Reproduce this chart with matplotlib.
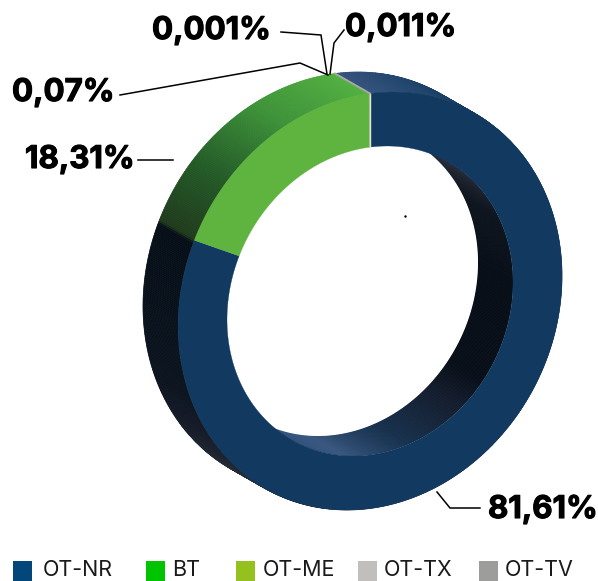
import numpy as np
import matplotlib
matplotlib.use('Agg')
import matplotlib.pyplot as plt
import matplotlib.patheffects as pe
from matplotlib.colors import to_rgb
from matplotlib.patches import Polygon, Rectangle

names = ['OT-NR', 'BT', 'OT-ME', 'OT-TX', 'OT-TV']
shares = [81.61, 18.31, 0.07, 0.011, 0.001]
share_labels = ['81,61%', '18,31%', '0,07%', '0,011%', '0,001%']
legend_colors = ['#03477a', '#00c400', '#95c11f', '#c1bebe', '#9d9d9c']
face_colors = ['#123a61', '#5fb440', '#95c11f', '#c1bebe', '#9d9d9c']

# ring geometry in pixels
cx, cy = 370, 301
rx_out, ry_out = 192, 209
rx_in, ry_in = 143, 155
skew = -0.12
dx, dy = -35, -20

# shading of the side walls, angle clockwise from the top
outer_stops = [(0, '#33527c'), (25, '#1d4268'), (50, '#123a61'), (180, '#2a2f3a'),
               (215, '#2a2f3a'), (250, '#0a121d'), (293, '#050d17'), (294, '#1f3a1b'),
               (312, '#225a26'), (335, '#3d9338'), (360, '#52b040')]
inner_stops = [(0, '#2a2f3d'), (40, '#2a2f3d'), (65, '#10161f'), (90, '#050c15'),
               (128, '#060d17'), (140, '#121b2b'), (165, '#16304d'), (190, '#3a5880'),
               (210, '#33527c'), (360, '#33527c')]


def ring_pts(theta, rx, ry, ox=0, oy=0):
    t = np.radians(theta)
    x = cx + ox + rx * np.sin(t)
    y = cy + oy + ry * (skew * np.sin(t) - np.sqrt(1 - skew ** 2) * np.cos(t))
    return np.column_stack([x, y])


def shade(theta, stops):
    a = [s[0] for s in stops]
    c = np.array([to_rgb(s[1]) for s in stops])
    return [np.interp(theta, a, c[:, i]) for i in range(3)]


def sweep(rx, ry, stops, clip=None):
    step = 0.5
    for t in np.arange(0, 360, step):
        arc = np.array([t, t + step])
        quad = np.vstack([ring_pts(arc, rx, ry), ring_pts(arc[::-1], rx, ry, dx, dy)])
        col = shade(t + step / 2, stops)
        p = Polygon(quad, closed=True, facecolor=col, edgecolor=col, lw=0.5)
        ax.add_patch(p)
        if clip is not None:
            p.set_clip_path(clip)


fig = plt.figure(figsize=(5.98, 5.81), dpi=100)
ax = fig.add_axes([0, 0, 1, 1])
ax.set_xlim(0, 598)
ax.set_ylim(581, 0)
ax.axis('off')

full = np.linspace(0, 360, 361)
front_inner = Polygon(ring_pts(full, rx_in, ry_in), closed=True, transform=ax.transData)
back_inner = Polygon(ring_pts(full, rx_in, ry_in, dx, dy), closed=True, transform=ax.transData)

sweep(rx_out, ry_out, outer_stops)
sweep(rx_in, ry_in, inner_stops, clip=front_inner)

hole = Polygon(ring_pts(full, rx_in, ry_in), closed=True, facecolor='white', edgecolor='white', lw=0.5)
ax.add_patch(hole)
hole.set_clip_path(back_inner)

# front face, one slice per share
start = 0
for share, col in zip(shares, face_colors):
    end = start + share / sum(shares) * 360
    arc = np.linspace(start, end, 200)
    pts = np.vstack([ring_pts(arc, rx_out, ry_out), ring_pts(arc[::-1], rx_in, ry_in)])
    ax.add_patch(Polygon(pts, closed=True, facecolor=col, edgecolor=col, lw=0.2))
    start = end

# seam at the top of the ring
top_f, top_i = ring_pts(np.array([0.0]), rx_out, ry_out)[0], ring_pts(np.array([0.0]), rx_in, ry_in)[0]
top_b = ring_pts(np.array([0.0]), rx_out, ry_out, dx, dy)[0]
ax.plot([top_f[0], top_i[0]], [top_f[1], top_i[1]], color='#dfe3dc', lw=1)
ax.plot([top_f[0], top_b[0]], [top_f[1], top_b[1]], color='#a8a8a8', lw=1.4)
ax.plot([405], [216], marker='.', ms=1.5, color='black')

# leader lines
lines = [([437, 450, 480], [492, 508, 508]),
         ([138, 173], [160, 160]),
         ([120, 300, 328], [95, 63, 75]),
         ([344, 334, 330], [30, 43, 74]),
         ([281, 321, 327], [32, 35, 74])]
for lx, ly in lines:
    ax.plot(lx, ly, color='black', lw=1.1, solid_joinstyle='miter')

label_x = [488, 25, 12, 345, 152]
label_y = [510, 160, 93, 28, 31]
for txt, x, y in zip(share_labels, label_x, label_y):
    ax.text(x, y, txt, fontsize=22.5, fontweight='bold', family='Inter', ha='left', va='center',
            color='black', path_effects=[pe.withStroke(linewidth=0.8, foreground='black')])

# legend sits at the very bottom of the picture
swatch_x = [13, 146, 236, 358, 479]
text_x = [43, 172, 263, 384, 505]
for name, col, sx, tx in zip(names, legend_colors, swatch_x, text_x):
    ax.add_patch(Rectangle((sx, 561), 19, 22, facecolor=col, edgecolor='none'))
    ax.text(tx, 580.5, name, fontsize=15.5, family='Inter', ha='left', va='bottom', color='#1a1a1a')

plt.savefig('out.png', dpi=100)
